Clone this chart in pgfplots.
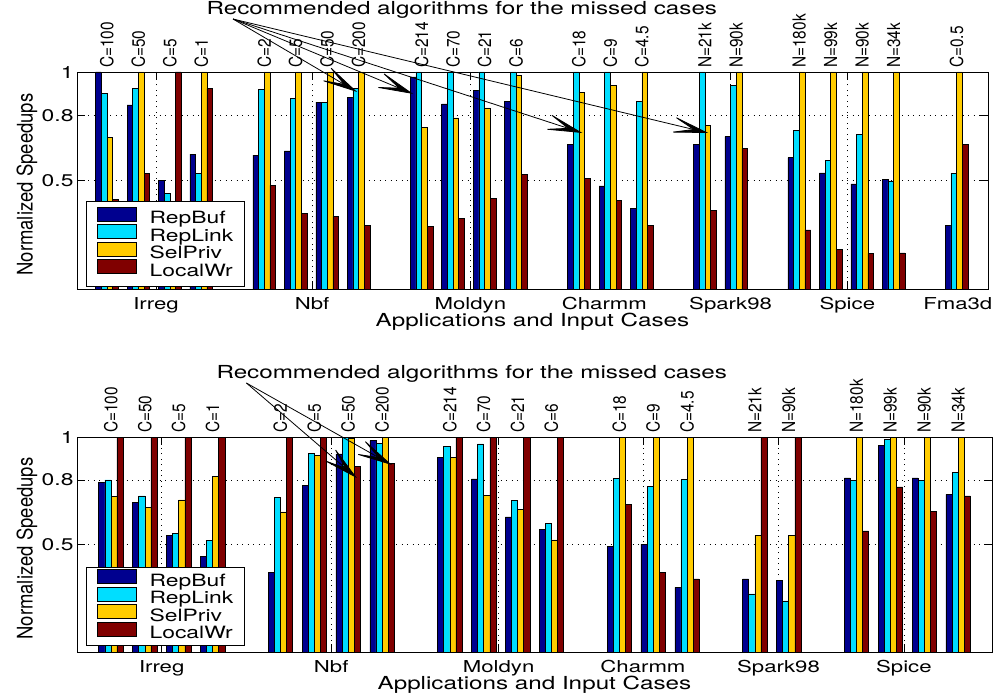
\documentclass[border=0pt]{standalone}
\usepackage{graphicx}
\usepackage{pgfplots}
\pgfplotsset{compat=1.18}
\usepackage{pgfplotstable}
\usetikzlibrary{arrows.meta}
\usepackage{fontspec}
\setmainfont{TeX Gyre Heros}[FakeStretch=1.35]
\newfontfamily\rotfont{TeX Gyre Heros}[FakeStretch=0.86]
\newcommand\grp[1]{{\fontsize{16.5}{16.5}\selectfont #1}}
\newcommand\cat[1]{\rotatebox{90}{\rotfont\fontsize{18}{18}\selectfont #1}}

\definecolor{cRB}{rgb}{0,0,0.5625}
\definecolor{cRL}{rgb}{0,0.87,1}
\definecolor{cSP}{rgb}{1,0.8,0}
\definecolor{cLW}{rgb}{0.5,0,0}

% top panel: x = slot, a=RepBuf, b=RepLink, c=SelPriv, d=LocalWr
\pgfplotstableread{
x a b c d
1 1.000 0.903 0.699 0.412
2 0.849 0.926 1.000 0.532
3 0.500 0.441 0.300 1.000
4 0.622 0.534 1.000 0.923
6 0.617 0.921 1.000 0.478
7 0.637 0.878 1.000 0.349
8 0.861 0.861 1.000 0.335
9 0.883 0.923 1.000 0.293
11 0.977 1.000 0.745 0.289
12 0.853 1.000 0.789 0.324
13 0.914 1.000 0.835 0.418
14 0.863 1.000 0.986 0.529
16 0.668 1.000 0.907 0.509
17 0.475 1.000 0.937 0.409
18 0.372 0.863 1.000 0.293
20 0.668 1.000 0.755 0.363
21 0.702 0.938 1.000 0.648
23 0.605 0.731 1.000 0.272
24 0.535 0.593 1.000 0.182
25 0.485 0.711 1.000 0.164
26 0.506 0.497 1.000 0.167
28 0.293 0.534 1.000 0.668
}\toptab

% bottom panel
\pgfplotstableread{
x a b c d
1 0.790 0.801 0.725 1.000
2 0.696 0.726 0.671 1.000
3 0.541 0.553 0.708 1.000
4 0.444 0.519 0.818 1.000
6 0.372 0.720 0.652 1.000
7 0.776 0.923 0.913 1.000
8 0.921 1.000 0.992 0.862
9 0.983 0.972 1.000 0.876
11 0.904 0.958 0.904 1.000
12 0.805 0.968 0.730 1.000
13 0.628 0.705 0.665 1.000
14 0.570 0.597 0.522 1.000
16 0.491 0.807 1.000 0.685
17 0.502 0.770 1.000 0.369
18 0.301 0.802 1.000 0.340
20 0.340 0.270 0.544 1.000
21 0.332 0.238 0.544 1.000
23 0.810 0.798 1.000 0.563
24 0.961 0.989 1.000 0.768
25 0.810 0.798 1.000 0.654
26 0.733 0.835 1.000 0.726
}\bottab

\tikzset{arr/.style={-{Stealth[length=40bp,width=18bp,inset=24bp]}, line width=0.8bp, black}}

\pgfplotsset{
  legbar/.style={legend image code/.code={%
      \draw[##1] (0bp,-1.5bp) rectangle (39bp,12.5bp);
      \path[draw=none,fill=none] (0bp,0bp) -- (52bp,0bp);}},
  s1/.style={ybar, bar width=0.18, bar shift=-0.27, fill=cRB, draw=black, line width=0.5bp, legbar},
  s2/.style={ybar, bar width=0.18, bar shift=-0.09, fill=cRL, draw=black, line width=0.5bp, legbar},
  s3/.style={ybar, bar width=0.18, bar shift=0.09, fill=cSP, draw=black, line width=0.5bp, legbar},
  s4/.style={ybar, bar width=0.18, bar shift=0.27, fill=cLW, draw=black, line width=0.5bp, legbar},
  myaxis/.style={
    scale only axis, ymin=0, ymax=1,
    ytick={0.5,0.8,1}, yticklabels={0.5,0.8,1},
    xmajorgrids, ymajorgrids,
    grid style={black, line width=0.5bp, dash pattern=on 1bp off 4.5bp},
    major tick length=8bp, tick style={black, line width=0.6bp},
    axis line style={line width=0.9bp},
    tick align=inside,
    clip=false,
    xticklabel style={anchor=base, yshift=-20.5bp},
    yticklabel style={font=\fontsize{17}{17}\selectfont},
    every axis y label/.style={at={(axis description cs:0,0.5)}, xshift=-50bp, yshift=-4bp, rotate=90, anchor=center, font=\rotfont\fontsize{21.6}{21.6}\selectfont},
    every axis x label/.style={at={(axis description cs:0.5,0)}, yshift=-37bp, anchor=base, font=\fontsize{18}{18}\selectfont},
    ylabel={Normalized Speedups}, xlabel={Applications and Input Cases},
    legend cell align=left,
  },
  mylegend/.style={legend style={at={(rel axis cs:#1)}, anchor=south west, draw=black, line width=0.8bp, fill=white,
      font=\fontsize{17}{17}\selectfont, inner xsep=11bp, row sep=-4.4bp,
      nodes={inner xsep=0bp, inner ysep=1.5bp, text height=12bp, text depth=3.4bp}}},
  catlab/.style={scale only axis, ymin=0, ymax=1, ytick=\empty,
    xticklabel pos=right, xtick style={draw=none}, axis line style={draw=none},
    xticklabel style={anchor=south, inner sep=4bp}},
}

\begin{document}
\begin{tikzpicture}
% ---------------- top panel ----------------
\begin{axis}[myaxis, at={(0bp,0bp)}, anchor=south west, width=911bp, height=217bp,
  xmin=0.05, xmax=29,
  xtick={2.56,7.52,12.55,16.81,20.82,24.53,28.04},
  xticklabels={\grp{Irreg},\grp{Nbf},\grp{Moldyn},\grp{Charmm},\grp{Spark98},\grp{Spice},\grp{Fma3d}},
  mylegend={0.0099,0.0092}, legend style={inner ysep=5.2bp}]
\addplot[s1] table[x=x,y=a]{\toptab};
\addplot[s2] table[x=x,y=b]{\toptab};
\addplot[s3] table[x=x,y=c]{\toptab};
\addplot[s4] table[x=x,y=d]{\toptab};
\legend{RepBuf,RepLink,SelPriv,LocalWr}
\draw[arr] (axis cs:5.01,1.244) -- (axis cs:8.95,0.908);
\draw[arr] (axis cs:5.01,1.244) -- (axis cs:10.73,0.899);
\draw[arr] (axis cs:5.01,1.244) -- (axis cs:16.11,0.719);
\draw[arr] (axis cs:5.01,1.244) -- (axis cs:20.11,0.719);
\node[anchor=base, font=\fontsize{18}{18}\selectfont] at (axis cs:12.28,1.263) {Recommended algorithms for the missed cases};
\end{axis}
\begin{axis}[catlab, at={(0bp,0bp)}, anchor=south west, width=911bp, height=217bp,
  xmin=0.05, xmax=29,
  xtick={1,2,3,4,6,7,8,9,11,12,13,14,16,17,18,20,21,23,24,25,26,28},
  xticklabels={\cat{C=100},\cat{C=50},\cat{C=5},\cat{C=1},\cat{C=2},\cat{C=5},\cat{C=50},\cat{C=200},\cat{C=214},\cat{C=70},\cat{C=21},\cat{C=6},\cat{C=18},\cat{C=9},\cat{C=4.5},\cat{N=21k},\cat{N=90k},\cat{N=180k},\cat{N=99k},\cat{N=90k},\cat{N=34k},\cat{C=0.5}}]
\end{axis}
% ---------------- bottom panel ----------------
\begin{axis}[myaxis, at={(0bp,-363bp)}, anchor=south west, width=915bp, height=215bp,
  xmin=0, xmax=27,
  xtick={2.5,7.5,12.44,16.7,20.7,24.4},
  xticklabels={\grp{Irreg},\grp{Nbf},\grp{Moldyn},\grp{Charmm},\grp{Spark98},\grp{Spice}},
  mylegend={0.0098,0.028}, legend style={inner ysep=1.85bp}]
\addplot[s1] table[x=x,y=a]{\bottab};
\addplot[s2] table[x=x,y=b]{\bottab};
\addplot[s3] table[x=x,y=c]{\bottab};
\addplot[s4] table[x=x,y=d]{\bottab};
\legend{RepBuf,RepLink,SelPriv,LocalWr}
\draw[arr] (axis cs:5.0,1.251) -- (axis cs:8.26,0.809);
\draw[arr] (axis cs:5.0,1.251) -- (axis cs:9.29,0.870);
\node[anchor=base, font=\fontsize{18}{18}\selectfont] at (axis cs:11.65,1.274) {Recommended algorithms for the missed cases};
\end{axis}
\begin{axis}[catlab, at={(0bp,-363bp)}, anchor=south west, width=915bp, height=215bp,
  xmin=0, xmax=27,
  xtick={1,2,3,4,6,7,8,9,11,12,13,14,16,17,18,20,21,23,24,25,26},
  xticklabels={\cat{C=100},\cat{C=50},\cat{C=5},\cat{C=1},\cat{C=2},\cat{C=5},\cat{C=50},\cat{C=200},\cat{C=214},\cat{C=70},\cat{C=21},\cat{C=6},\cat{C=18},\cat{C=9},\cat{C=4.5},\cat{N=21k},\cat{N=90k},\cat{N=180k},\cat{N=99k},\cat{N=90k},\cat{N=34k}}]
\end{axis}
\pgfresetboundingbox
\useasboundingbox (-77bp,-409bp) rectangle (917bp,289bp);
\end{tikzpicture}
\end{document}
